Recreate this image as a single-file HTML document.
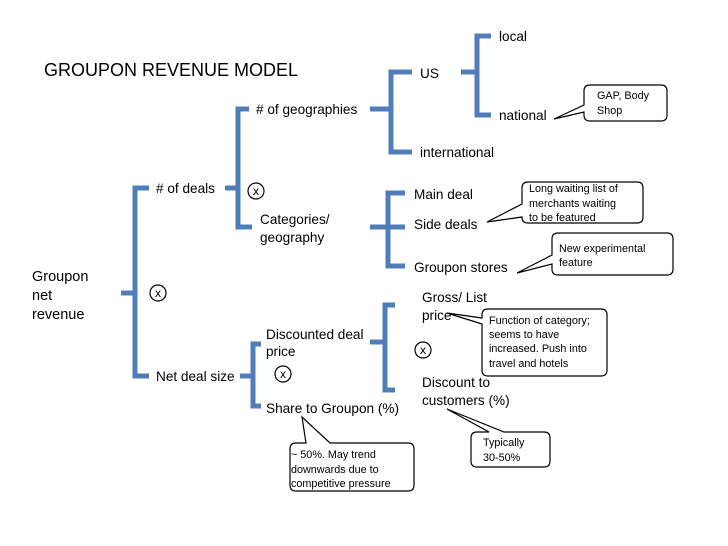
<!DOCTYPE html>
<html><head><meta charset="utf-8"><style>
html,body{margin:0;padding:0;background:#fff;}
svg{display:block;}
text{font-family:"Liberation Sans",Arial,sans-serif;fill:#000;}
.b{stroke:#4f7dba;stroke-width:5;fill:none;}
.c{fill:#fff;stroke:#000;stroke-width:1.2;}
.t{font-size:13.6px;}
.s{font-size:10.8px;}
</style></head><body>
<svg width="728" height="546" viewBox="0 0 728 546">
<text x="44" y="76" style="font-size:18px">GROUPON REVENUE MODEL</text>

<path class="b" d="M149 188 H135 V376 H149 M121 293 H135"/>
<path class="b" d="M249 109 H238 V227 H252 M225 188 H238"/>
<path class="b" d="M412 72 H391 V152 H412 M370 109 H391"/>
<path class="b" d="M491 36 H477 V115 H491 M461 72 H477"/>
<path class="b" d="M405 193 H388 V266 H405 M370 227 H405"/>
<path class="b" d="M261 344 H253 V406 H261 M240 376 H253"/>
<path class="b" d="M395 305 H385 V390 H395 M370 342 H385"/>

<g fill="none" stroke="#000" stroke-width="1.2">
<circle cx="256" cy="191" r="8"/><circle cx="158" cy="293" r="8"/>
<circle cx="283" cy="374" r="8"/><circle cx="423" cy="350" r="8"/>
</g>
<g text-anchor="middle" style="font-size:12px">
<text x="256" y="195">x</text><text x="158" y="297">x</text>
<text x="283" y="378">x</text><text x="423" y="354">x</text>
</g>

<g class="t">
<text x="256" y="114"># of geographies</text>
<text x="156" y="193"># of deals</text>
<text x="260" y="224">Categories/</text>
<text x="260" y="242">geography</text>
<text x="32" y="281" style="font-size:14.5px">Groupon</text>
<text x="32" y="300" style="font-size:14.5px">net</text>
<text x="32" y="319" style="font-size:14.5px">revenue</text>
<text x="420" y="78">US</text>
<text x="499" y="41">local</text>
<text x="499" y="120">national</text>
<text x="420" y="157">international</text>
<text x="414" y="199">Main deal</text>
<text x="414" y="229">Side deals</text>
<text x="414" y="272">Groupon stores</text>
<text x="422" y="302">Gross/ List</text>
<text x="422" y="320">price</text>
<text x="266" y="339">Discounted deal</text>
<text x="266" y="356">price</text>
<text x="156" y="381">Net deal size</text>
<text x="266" y="413">Share to Groupon (%)</text>
<text x="422" y="387">Discount to</text>
<text x="422" y="405">customers (%)</text>
</g>

<path class="c" d="M590 85 H661 Q667 85 667 91 V115 Q667 121 661 121 H590 Q584 121 584 115 V112 L554 119 L584 105 V91 Q584 85 590 85 Z"/>
<text class="s" x="597" y="99">GAP, Body</text><text class="s" x="597" y="114">Shop</text>

<path class="c" d="M528 182 H637 Q643 182 643 188 V217 Q643 223 637 223 H528 Q522 223 522 217 L487 222 L522 204 V188 Q522 182 528 182 Z"/>
<text class="s" x="529" y="192">Long waiting list of</text>
<text class="s" x="529" y="207">merchants waiting</text>
<text class="s" x="529" y="221">to be featured</text>

<path class="c" d="M558 233 H667 Q673 233 673 239 V269 Q673 275 667 275 H558 Q552 275 552 269 V264 L517 273 L552 255 V239 Q552 233 558 233 Z"/>
<text class="s" x="559" y="252">New experimental</text>
<text class="s" x="559" y="266">feature</text>

<path class="c" d="M488 309 H601 Q607 309 607 315 V370 Q607 376 601 376 H488 Q482 376 482 370 V324 L447 313 L482 318 V315 Q482 309 488 309 Z"/>
<text class="s" x="489" y="324">Function of category;</text>
<text class="s" x="489" y="338">seems to have</text>
<text class="s" x="489" y="352">increased. Push into</text>
<text class="s" x="489" y="367">travel and hotels</text>

<path class="c" d="M477 432 H489 L447 409 L504 432 H544 Q550 432 550 438 V461 Q550 467 544 467 H477 Q471 467 471 461 V438 Q471 432 477 432 Z"/>
<text class="s" x="483" y="446">Typically</text><text class="s" x="483" y="461">30-50%</text>

<path class="c" d="M296 443 H306 L302 417 L330 443 H408 Q414 443 414 449 V485 Q414 491 408 491 H296 Q290 491 290 485 V449 Q290 443 296 443 Z"/>
<text class="s" x="291" y="458">~ 50%. May trend</text>
<text class="s" x="291" y="473">downwards due to</text>
<text class="s" x="291" y="487">competitive pressure</text>
</svg>
</body></html>
